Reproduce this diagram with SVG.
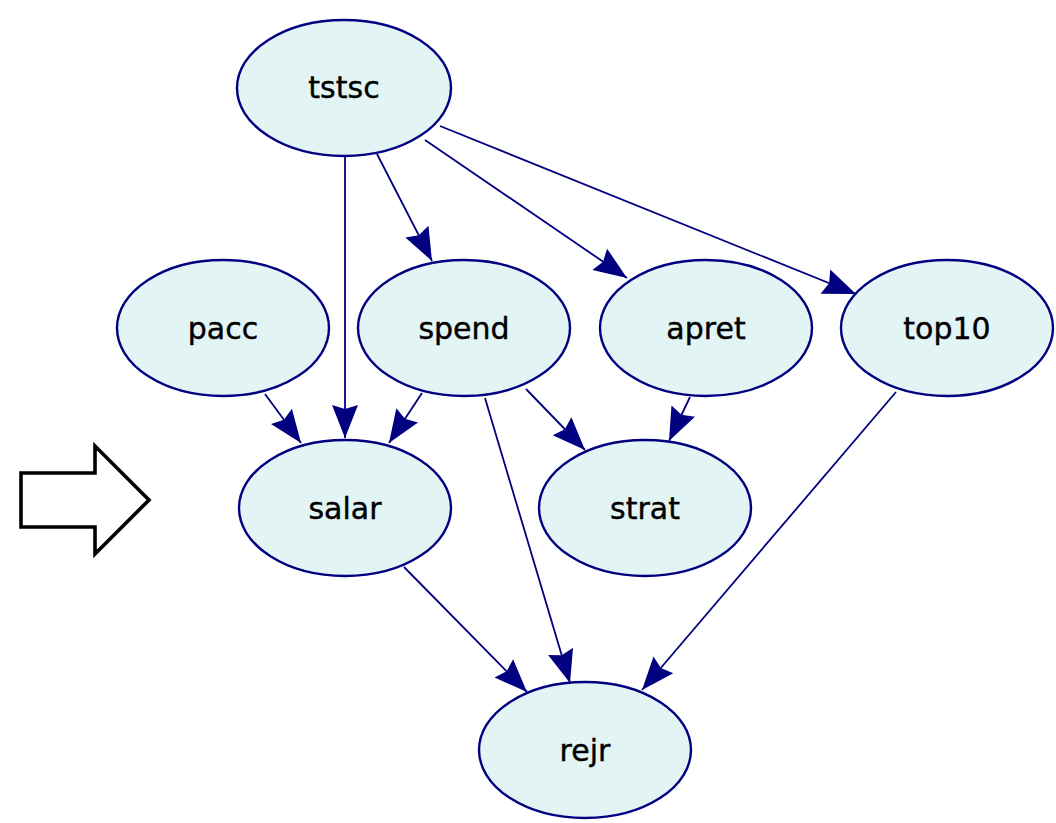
<svg xmlns="http://www.w3.org/2000/svg" width="1056" height="823" viewBox="0 0 1056 823">
  <style>
    .node ellipse { fill: #e2f4f4; stroke: #000080; stroke-width: 2.4; }
    .node text { font-family: "DejaVu Sans", "Liberation Sans", sans-serif; font-size: 30px; fill: #000; text-anchor: middle; stroke: #000; stroke-width: 0.4; }
    .edges line { stroke: #000080; stroke-width: 1.8; fill: none; marker-end: url(#head); }
    .pointer { fill: #fff; stroke: #000; stroke-width: 3.6; stroke-linejoin: miter; }
  </style>
  <defs>
    <marker id="head" markerUnits="userSpaceOnUse" viewBox="-1 -16 36 32" markerWidth="36" markerHeight="32" refX="33" refY="0" orient="auto">
      <path d="M0,-13 L33,0 L0,13 L4,0 Z" fill="#000080"/>
    </marker>
  </defs>
  <rect width="1056" height="823" fill="#fff"/>

  <!-- pointer arrow at left -->
  <polygon class="pointer" points="21,473 95,473 95,446 149,500 95,554 95,527 21,527"/>

  <g class="edges">
    <line x1="345" y1="156" x2="345" y2="438"/>
    <line x1="377" y1="154" x2="432" y2="261"/>
    <line x1="425" y1="140" x2="627" y2="278"/>
    <line x1="440" y1="126" x2="856" y2="294"/>
    <line x1="265" y1="394" x2="301" y2="443"/>
    <line x1="422" y1="393" x2="389" y2="443"/>
    <line x1="526" y1="389" x2="585" y2="450"/>
    <line x1="690" y1="397" x2="669" y2="441"/>
    <line x1="485" y1="398" x2="570" y2="683"/>
    <line x1="896" y1="392" x2="642" y2="690"/>
    <line x1="404" y1="567" x2="527" y2="692"/>
  </g>

  <g id="tstsc" class="node">
    <ellipse cx="344" cy="88" rx="107" ry="68"/>
    <text x="344" y="98">tstsc</text>
  </g>
  <g id="pacc" class="node">
    <ellipse cx="223" cy="328" rx="106" ry="68"/>
    <text x="223" y="339">pacc</text>
  </g>
  <g id="spend" class="node">
    <ellipse cx="464" cy="328" rx="106" ry="68"/>
    <text x="464" y="339">spend</text>
  </g>
  <g id="apret" class="node">
    <ellipse cx="706" cy="328" rx="106" ry="68"/>
    <text x="706" y="339">apret</text>
  </g>
  <g id="top10" class="node">
    <ellipse cx="947" cy="328" rx="106" ry="68"/>
    <text x="947" y="339">top10</text>
  </g>
  <g id="salar" class="node">
    <ellipse cx="345" cy="508" rx="106" ry="68"/>
    <text x="345" y="519">salar</text>
  </g>
  <g id="strat" class="node">
    <ellipse cx="645" cy="508" rx="106" ry="68"/>
    <text x="645" y="519">strat</text>
  </g>
  <g id="rejr" class="node">
    <ellipse cx="585" cy="750" rx="106" ry="68"/>
    <text x="585" y="761">rejr</text>
  </g>
</svg>
